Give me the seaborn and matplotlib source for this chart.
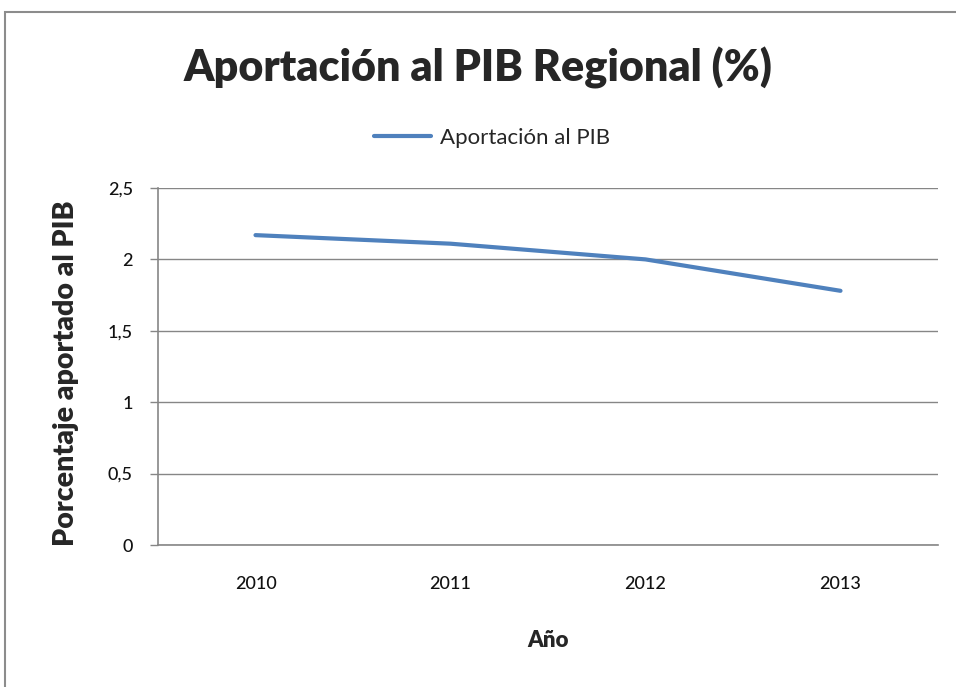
import pandas as pd
import matplotlib
matplotlib.use("Agg")
import matplotlib.pyplot as plt
import seaborn as sns
from matplotlib.ticker import FixedLocator, FuncFormatter

# data
years = ["2010", "2011", "2012", "2013"]
aportacion = [2.17, 2.11, 2.00, 1.78]
y_ticks = [0, 0.5, 1, 1.5, 2, 2.5]

df = pd.DataFrame({"year": years, "value": aportacion})
df["pos"] = range(len(years))

sns.set_style("white")
plt.rcParams["font.family"] = ["Lato", "DejaVu Sans"]

fig = plt.figure(figsize=(9.56, 6.87), dpi=100)
# outer chart frame like Excel
fig.patches.append(plt.Rectangle((5 / 956, -0.01), 1.0, 1 - 12 / 687 + 0.01,
                                 transform=fig.transFigure, fill=False,
                                 edgecolor="#8c8c8c", linewidth=1.5))
ax = fig.add_axes([158 / 956, 1 - 545 / 687, (938 - 158) / 956, (545 - 188) / 687])

sns.lineplot(data=df, x="pos", y="value", ax=ax, color="#4F81BD", linewidth=3,
             label="Aportación al PIB", legend=False)

ax.set_xlim(-0.5, len(years) - 0.5)
ax.set_ylim(0, 2.5)
ax.yaxis.set_major_locator(FixedLocator(y_ticks))
ax.yaxis.set_major_formatter(FuncFormatter(lambda v, p: f"{v:g}".replace(".", ",")))
ax.set_xticks(df["pos"])
ax.set_xticklabels(years)
ax.set_xticks([i - 0.5 for i in range(len(years) + 1)], minor=True)
ax.tick_params(axis="x", which="major", length=0, pad=22, labelsize=13, colors="#111111")
ax.tick_params(axis="x", which="minor", length=6, color="#868686", width=1)
ax.tick_params(axis="y", which="major", length=6, color="#868686", width=1,
               direction="out", labelsize=13, labelcolor="#111111", pad=12, left=True)
for lbl in ax.get_xticklabels() + ax.get_yticklabels():
    lbl.set_fontweight("medium")

ax.grid(axis="y", color="#868686", linewidth=1)
ax.grid(axis="x", visible=False)
for side in ["top", "right"]:
    ax.spines[side].set_visible(False)
for side in ["left", "bottom"]:
    ax.spines[side].set_color("#868686")
    ax.spines[side].set_linewidth(1.2)

ax.set_xlabel("Año", fontsize=16, fontweight="heavy", labelpad=28)
ax.set_ylabel("Porcentaje aportado al PIB", fontsize=20.5, fontweight="heavy", labelpad=12)
ax.yaxis.set_label_coords(-0.101, 0.48)

fig.suptitle("Aportación al PIB Regional (%)", x=0.5, y=1 - 68 / 687, va="center",
             fontsize=31, fontweight="heavy")
fig.legend(loc="center", bbox_to_anchor=(492 / 956, 1 - 138 / 687), frameon=False,
           fontsize=16, handlelength=2.6, handletextpad=0.4)

fig.savefig("out.png", dpi=100)
